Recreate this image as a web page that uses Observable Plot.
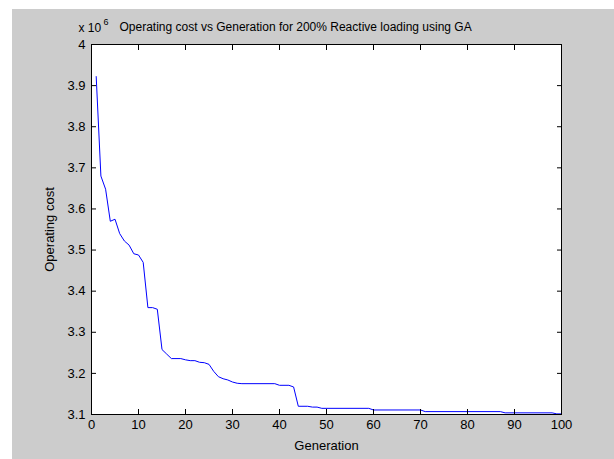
<!DOCTYPE html>
<html>
<head>
<meta charset="utf-8">
<script src="https://cdn.jsdelivr.net/npm/d3@7"></script>
<script src="https://cdn.jsdelivr.net/npm/@observablehq/plot@0.6"></script>
<style>
  html, body { margin: 0; padding: 0; background: #ffffff; }
  #chart { position: absolute; left: 12px; top: 9px; }
  #chart svg { background: #cccccc; display: block; }
</style>
</head>
<body>
<div id="chart"></div>
<script>
const generations = [1, 2, 3, 4, 5, 6, 7, 8, 9, 10, 11, 12, 13, 14, 15, 16, 17, 19, 20, 21, 22, 23, 24, 25, 26, 27, 28, 29, 30, 31, 32, 39, 40, 42, 43, 44, 46, 47, 48, 49, 59, 60, 70, 71, 87, 88, 98, 99, 100];
const costs = [3.922, 3.68, 3.648, 3.570, 3.575, 3.540, 3.522, 3.512, 3.491, 3.488, 3.470, 3.360, 3.360, 3.356, 3.258, 3.247, 3.236, 3.236, 3.233, 3.231, 3.231, 3.227, 3.226, 3.222, 3.205, 3.192, 3.187, 3.184, 3.179, 3.176, 3.175, 3.175, 3.171, 3.171, 3.167, 3.120, 3.120, 3.118, 3.118, 3.115, 3.115, 3.111, 3.111, 3.107, 3.107, 3.104, 3.104, 3.1015, 3.1015];
const xTicks = [0, 10, 20, 30, 40, 50, 60, 70, 80, 90, 100];
const yTicks = [3.1, 3.2, 3.3, 3.4, 3.5, 3.6, 3.7, 3.8, 3.9, 4.0];
const titleText = "Operating cost vs Generation for 200% Reactive loading using GA";
const xLabel = "Generation";
const yLabel = "Operating cost";
const exponentBase = "x 10";
const exponent = "6";

const data = generations.map((g, i) => ({generation: g, cost: costs[i] * 1e6}));
const yFmt = d => String(+(d).toFixed(1));

const font = "'Liberation Sans', Arial, Helvetica, sans-serif";

const chart = Plot.plot({
  width: 602,
  height: 450,
  marginLeft: 79,
  marginTop: 35,
  marginRight: 53,
  marginBottom: 45,
  style: {fontFamily: font, fontSize: "13px", color: "#000", background: "#cccccc", overflow: "visible"},
  x: {domain: [0, 100]},
  y: {domain: [3.1, 4.0], transform: d => d / 1e6},
  marks: [
    Plot.frame({fill: "white"}),
    Plot.line(data, {x: "generation", y: "cost", stroke: "#0000ff", strokeWidth: 1}),
    Plot.axisX({ticks: xTicks, tickSize: -5, tickPadding: 10, label: xLabel, labelAnchor: "center", labelArrow: "none", labelOffset: 35, stroke: "black"}),
    Plot.axisX({anchor: "top", ticks: xTicks, tickSize: -5, tickFormat: () => "", label: null, stroke: "black"}),
    Plot.axisY({ticks: yTicks, tickSize: -5, tickPadding: 11, tickFormat: yFmt, label: yLabel, labelAnchor: "center", labelArrow: "none", labelOffset: 47, stroke: "black"}),
    Plot.axisY({anchor: "right", ticks: yTicks, tickSize: -5, tickFormat: () => "", label: null, stroke: "black"}),
    Plot.frame({stroke: "black", strokeWidth: 1}),
    Plot.text([titleText], {frameAnchor: "top-left", text: d => d, dx: 28, dy: -14, textAnchor: "start", lineAnchor: "bottom", fontSize: 12}),
    Plot.text([exponentBase], {frameAnchor: "top-left", text: d => d, dx: -13, dy: -13, textAnchor: "start", lineAnchor: "bottom", fontSize: 12}),
    Plot.text([exponent], {frameAnchor: "top-left", text: d => d, dx: 12, dy: -20, textAnchor: "start", lineAnchor: "bottom", fontSize: 9})
  ]
});
document.getElementById("chart").appendChild(chart);
</script>
</body>
</html>
